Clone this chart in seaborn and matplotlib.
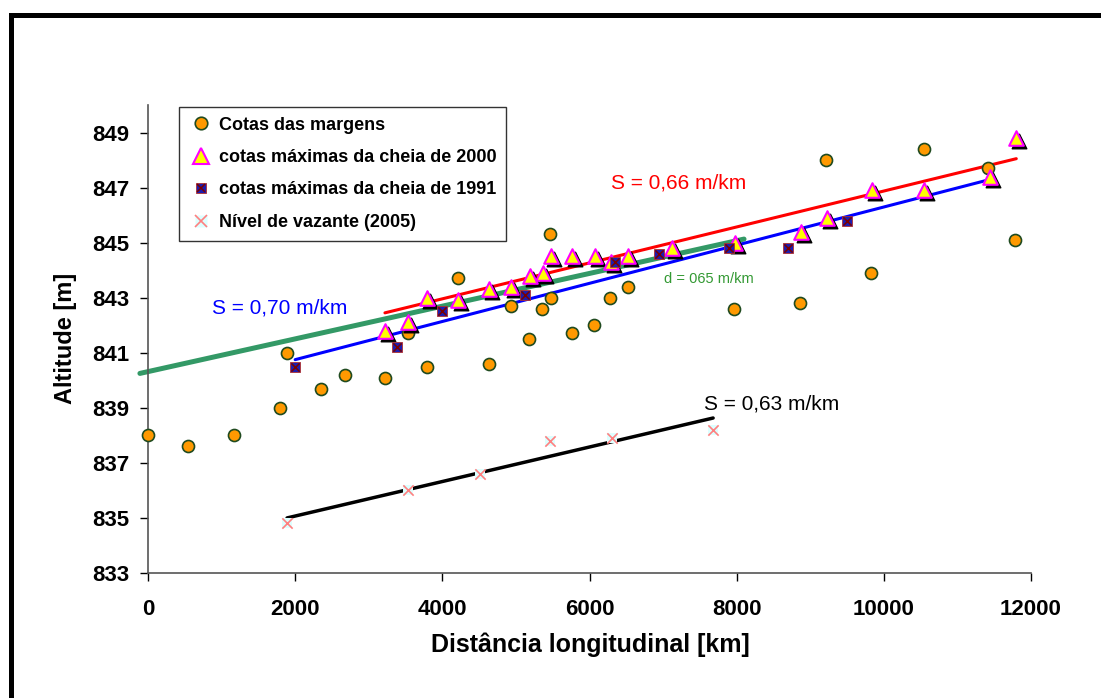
import numpy as np
import pandas as pd
import matplotlib
matplotlib.use("Agg")
import matplotlib.pyplot as plt
import matplotlib.transforms as mtransforms
from matplotlib.lines import Line2D
import seaborn as sns

# valores
margens_x = [0, 540, 1170, 1790, 1890, 2350, 2680, 3220, 3530, 3790, 4210, 4630, 4930, 5180,
             5360, 5460, 5480, 5760, 6060, 6280, 6520, 7960, 8860, 9210, 9830, 10550, 11420, 11780]
margens_y = [838.0, 837.6, 838.0, 839.0, 841.0, 839.7, 840.2, 840.1, 841.7, 840.5, 843.7, 840.6, 842.7, 841.5,
             842.6, 845.3, 843.0, 841.7, 842.0, 843.0, 843.4, 842.6, 842.8, 848.0, 843.9, 848.4, 847.7, 845.1]

cheia2000_x = [3220, 3530, 3790, 4210, 4630, 4930, 5190, 5370, 5480, 5760, 6080, 6290, 6520, 7120,
               7980, 8880, 9230, 9840, 10550, 11440, 11800]
cheia2000_y = [841.8, 842.1, 843.0, 842.9, 843.3, 843.4, 843.8, 843.9, 844.5, 844.5, 844.5, 844.3, 844.5, 844.8,
               845.0, 845.4, 845.9, 846.9, 846.9, 847.4, 848.8]

cheia1991_x = [2000, 3380, 4000, 5120, 6350, 6950, 7900, 8700, 9500]
cheia1991_y = [840.5, 841.2, 842.5, 843.1, 844.3, 844.6, 844.8, 844.8, 845.8]

vazante_x = [1890, 3530, 4510, 5460, 6310, 7680]
vazante_y = [834.8, 836.0, 836.6, 837.8, 837.9, 838.2]

# linhas de tendencia (extremos)
tend2000_x = [3220, 11800]
tend2000_y = [842.45, 848.05]
tend1991_x = [2000, 11450]
tend1991_y = [840.75, 847.3]
tend_d_x = [-110, 8100]
tend_d_y = [840.25, 845.13]
tend_vaz_x = [1890, 7680]
tend_vaz_y = [835.0, 838.63]

legend_labels = ["Cotas das margens", "cotas máximas da cheia de 2000",
                 "cotas máximas da cheia de 1991", "Nível de vazante (2005)"]

sns.set_style("white")
plt.rcParams['font.family'] = ['Liberation Sans', 'DejaVu Sans']
plt.rcParams['text.color'] = 'black'
plt.rcParams['axes.labelcolor'] = 'black'
plt.rcParams['xtick.color'] = 'black'
plt.rcParams['ytick.color'] = 'black'

fig = plt.figure(figsize=(11.01, 6.98), dpi=100)
ax = fig.add_axes([148/1101, 1-573/698, 883/1101, 468/698])

# linhas
sns.lineplot(x=tend_d_x, y=tend_d_y, ax=ax, color='#339966', linewidth=3.6, clip_on=False, zorder=2)
sns.lineplot(x=tend2000_x, y=tend2000_y, ax=ax, color='#FF0000', linewidth=2.2, zorder=2)
sns.lineplot(x=tend1991_x, y=tend1991_y, ax=ax, color='#0000FF', linewidth=2.2, zorder=2)
sns.lineplot(x=tend_vaz_x, y=tend_vaz_y, ax=ax, color='black', linewidth=2.5, zorder=2)

# pontos
sns.scatterplot(x=margens_x, y=margens_y, ax=ax, marker='o', s=75, color='#FF9900',
                edgecolor='#1F4A1F', linewidth=1.2, zorder=4, clip_on=False)

shadow = mtransforms.offset_copy(ax.transData, fig=fig, x=3, y=-3, units='dots')
sns.scatterplot(x=cheia2000_x, y=cheia2000_y, ax=ax, marker='^', s=110, color='black',
                edgecolor='black', linewidth=1.0, zorder=5, transform=shadow)
sns.scatterplot(x=cheia2000_x, y=cheia2000_y, ax=ax, marker='^', s=110, color='#FFFF00',
                edgecolor='#FF00FF', linewidth=1.5, zorder=6)

sns.scatterplot(x=cheia1991_x, y=cheia1991_y, ax=ax, marker='s', s=45, color='#1C1CB0',
                edgecolor='#B03030', linewidth=0.6, zorder=7)
sns.scatterplot(x=cheia1991_x, y=cheia1991_y, ax=ax, marker='x', s=35, color='#7A0000',
                linewidth=1.1, zorder=8)

sns.scatterplot(x=vazante_x, y=vazante_y, ax=ax, marker='s', s=55, color='#DDFFFF',
                linewidth=0, zorder=5)
sns.scatterplot(x=vazante_x, y=vazante_y, ax=ax, marker='x', s=55, color='#FF8080',
                linewidth=1.2, zorder=6)

# textos
ax.text(6290, 847.17, "S = 0,66 m/km", color='#FF0000', fontsize=15, ha='left', va='center')
ax.text(870, 842.63, "S = 0,70 m/km", color='#0000FF', fontsize=15, ha='left', va='center')
ax.text(7556, 839.14, "S = 0,63 m/km", color='black', fontsize=15, ha='left', va='center')
ax.text(7013, 843.68, "d = 065 m/km", color='#339933', fontsize=10.5, ha='left', va='center')

ax.set_xlim(0, 12000)
ax.set_ylim(833, 850)
ax.set_xticks(np.arange(0, 12001, 2000))
ax.set_yticks(np.arange(833, 850, 2))
ax.tick_params(axis='both', direction='out', length=6, width=1, color='black',
               labelcolor='black', labelsize=16, bottom=True, left=True)
ax.tick_params(axis='y', pad=7.5)
ax.tick_params(axis='x', pad=13)
for lab in ax.get_xticklabels() + ax.get_yticklabels():
    lab.set_fontweight('bold')

for side in ['top', 'right']:
    ax.spines[side].set_visible(False)
for side in ['left', 'bottom']:
    ax.spines[side].set_color('#555555')
    ax.spines[side].set_linewidth(1.2)

ax.set_xlabel("Distância longitudinal [km]", fontsize=18, fontweight='bold')
ax.set_ylabel("Altitude [m]", fontsize=17, fontweight='bold')
ax.xaxis.set_label_coords(0.5006, -0.154)
ax.xaxis.label.set_va('center')
ax.yaxis.set_label_coords(-0.093, 0.502)
ax.yaxis.label.set_va('center')

# legenda
h1 = Line2D([], [], ls='none', marker='o', markersize=9, mfc='#FF9900', mec='#1F4A1F', mew=1.2)
h2 = Line2D([], [], ls='none', marker='^', markersize=11, mfc='#FFFF00', mec='#FF00FF', mew=1.5)
h3 = (Line2D([], [], ls='none', marker='s', markersize=7, mfc='#1C1CB0', mec='#B03030', mew=0.6),
      Line2D([], [], ls='none', marker='x', markersize=6, mec='#7A0000', mew=1.1))
h4 = (Line2D([], [], ls='none', marker='s', markersize=8, mfc='#DDFFFF', mec='none'),
      Line2D([], [], ls='none', marker='x', markersize=8, mec='#FF8080', mew=1.2))
leg = ax.legend([h1, h2, h3, h4], legend_labels, loc='upper left', bbox_to_anchor=(0.035, 0.996),
                borderaxespad=0, frameon=True, fancybox=False, edgecolor='black',
                prop={'size': 13, 'weight': 'bold'}, handlelength=1.3, handletextpad=0.35,
                labelspacing=0.85, borderpad=0.55)
leg.get_frame().set_linewidth(1.0)
leg.set_zorder(10)

# moldura
fig.add_artist(Line2D([11/1101, 11/1101], [0, 1-15/698], color='black', linewidth=3.6,
                      transform=fig.transFigure, solid_capstyle='projecting'))
fig.add_artist(Line2D([11/1101, 1.0], [1-15/698, 1-15/698], color='black', linewidth=3.6,
                      transform=fig.transFigure, solid_capstyle='projecting'))

fig.savefig("out.png", dpi=100, facecolor='white')
